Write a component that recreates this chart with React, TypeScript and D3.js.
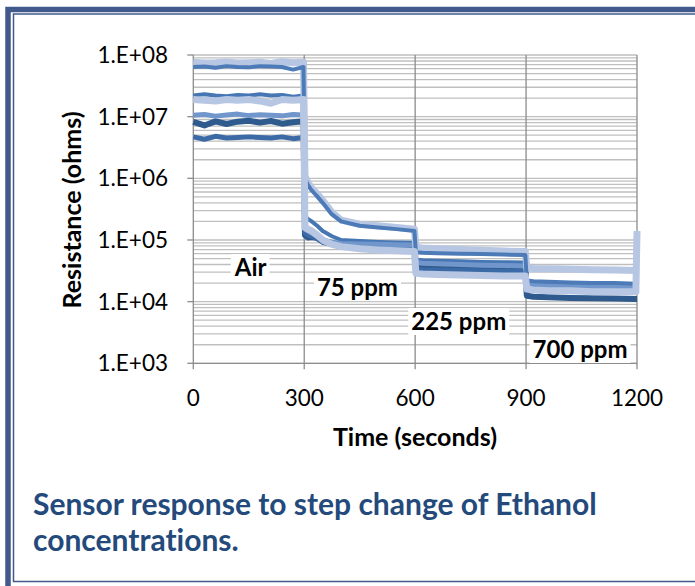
import { useEffect, useRef } from 'react';
import * as d3 from 'd3';

// time stamps (s) shared by all sensor traces
const times = [
  0, 30, 60, 90, 120, 150, 180, 210, 240, 270, 298,
  302, 310, 320, 335, 350, 375, 400, 450, 500, 550, 598,
  602, 620, 660, 720, 780, 840, 898,
  902, 920, 960, 1020, 1080, 1140, 1197, 1200,
];

// resistance (ohms) per sensor
const s1 = [
  7.6e7, 7.4e7, 7.5e7, 7.7e7, 7.4e7, 7.5e7, 7.6e7, 7.3e7, 7.8e7, 7.5e7, 7.6e7,
  1.1e6, 8.5e5, 7.0e5, 5.6e5, 4.4e5, 2.8e5, 2.1e5, 1.8e5, 1.7e5, 1.6e5, 1.5e5,
  7.6e4, 7.4e4, 7.2e4, 7.0e4, 6.8e4, 6.6e4, 6.5e4,
  3.5e4, 3.45e4, 3.4e4, 3.35e4, 3.3e4, 3.25e4, 3.2e4, 3.2e4,
];
const s2 = [
  6.4e7, 6.5e7, 6.2e7, 6.6e7, 6.4e7, 6.3e7, 6.6e7, 6.5e7, 6.4e7, 5.8e7, 6.4e7,
  1.0e6, 7.8e5, 6.4e5, 5.1e5, 4.0e5, 2.6e5, 2.0e5, 1.7e5, 1.6e5, 1.5e5, 1.4e5,
  6.3e4, 6.2e4, 6.1e4, 6.0e4, 5.9e4, 5.8e4, 5.7e4,
  2.2e4, 2.15e4, 2.1e4, 2.05e4, 2.0e4, 2.0e4, 1.95e4, 1.95e4,
];
const s3 = [
  2.2e7, 2.3e7, 2.2e7, 2.15e7, 2.25e7, 2.2e7, 2.3e7, 2.2e7, 2.25e7, 2.1e7, 2.2e7,
  2.4e5, 2.2e5, 2.0e5, 1.7e5, 1.4e5, 1.15e5, 1.0e5, 9.6e4, 9.3e4, 9.1e4, 9.0e4,
  4.8e4, 4.7e4, 4.6e4, 4.5e4, 4.4e4, 4.35e4, 4.3e4,
  2.1e4, 2.05e4, 2.0e4, 1.95e4, 1.9e4, 1.9e4, 1.85e4, 1.85e4,
];
const s4 = [
  1.9e7, 1.85e7, 1.8e7, 1.9e7, 1.85e7, 1.9e7, 1.8e7, 1.65e7, 1.9e7, 1.85e7, 1.9e7,
  1.6e5, 1.5e5, 1.4e5, 1.2e5, 1.0e5, 8.5e4, 7.8e4, 7.2e4, 6.9e4, 6.7e4, 6.5e4,
  2.9e4, 2.8e4, 2.75e4, 2.7e4, 2.65e4, 2.6e4, 2.6e4,
  1.6e4, 1.55e4, 1.5e4, 1.5e4, 1.45e4, 1.45e4, 1.45e4, 1.4e5,
];
const s5 = [
  1.05e7, 1.08e7, 1.02e7, 1.06e7, 1.1e7, 1.04e7, 1.07e7, 1.05e7, 1.03e7, 1.08e7, 1.06e7,
  1.5e5, 1.4e5, 1.3e5, 1.15e5, 1.0e5, 9.2e4, 8.8e4, 8.6e4, 8.5e4, 8.4e4, 8.3e4,
  4.3e4, 4.2e4, 4.1e4, 4.0e4, 3.9e4, 3.85e4, 3.8e4,
  1.9e4, 1.85e4, 1.8e4, 1.75e4, 1.75e4, 1.7e4, 1.7e4, 1.7e4,
];
const s6 = [
  8.2e6, 7.2e6, 8.4e6, 7.6e6, 8.3e6, 8.6e6, 8.0e6, 8.5e6, 7.7e6, 8.1e6, 8.4e6,
  1.2e5, 1.1e5, 1.12e5, 1.08e5, 9.5e4, 8.8e4, 8.5e4, 8.3e4, 8.2e4, 8.1e4, 8.0e4,
  3.8e4, 3.7e4, 3.6e4, 3.5e4, 3.45e4, 3.4e4, 3.4e4,
  1.25e4, 1.2e4, 1.18e4, 1.15e4, 1.13e4, 1.12e4, 1.1e4, 1.1e4,
];
const s7 = [
  4.7e6, 4.3e6, 4.8e6, 4.5e6, 4.6e6, 4.7e6, 4.6e6, 4.5e6, 4.7e6, 4.4e6, 4.6e6,
  1.3e5, 1.2e5, 1.15e5, 1.05e5, 9.2e4, 8.4e4, 8.0e4, 7.8e4, 7.7e4, 7.6e4, 7.6e4,
  3.4e4, 3.3e4, 3.25e4, 3.2e4, 3.15e4, 3.1e4, 3.1e4,
  1.75e4, 1.7e4, 1.65e4, 1.62e4, 1.6e4, 1.6e4, 1.58e4, 1.58e4,
];

const xTicks = [0, 300, 600, 900, 1200];
const yTicks = [1e3, 1e4, 1e5, 1e6, 1e7, 1e8];
const yTickLabels = ['1.E+03', '1.E+04', '1.E+05', '1.E+06', '1.E+07', '1.E+08'];

const phaseLabels = [
  { text: 'Air', t: 155, v: 2.6e4 },
  { text: '75 ppm', t: 444, v: 1.23e4 },
  { text: '225 ppm', t: 718, v: 3.47e3 },
  { text: '700 ppm', t: 1046, v: 1.22e3 },
];

// drawing order: dark first, light on top
const series = [
  { values: s6, color: '#2F5A8D', width: 6 },
  { values: s7, color: '#3C6AA6', width: 5 },
  { values: s3, color: '#4676B3', width: 4 },
  { values: s5, color: '#7196CC', width: 5 },
  { values: s1, color: '#B7C7E3', width: 7 },
  { values: s2, color: '#4C7BB8', width: 4 },
  { values: s4, color: '#B7C7E3', width: 7 },
];

const W = 695;
const H = 586;
const font = 'Lato, "Open Sans", sans-serif';

const App = () => {
  const svgRef = useRef(null);

  useEffect(() => {
    const svg = d3.select(svgRef.current);
    svg.selectAll('*').remove();

    const x = d3.scaleLinear().domain([0, 1200]).range([193.3, 637]);
    const y = d3.scaleLog().domain([1e3, 1e8]).range([363.3, 55]);

    // frame
    svg.append('rect').attr('x', 8).attr('y', 9.5).attr('width', W + 20).attr('height', H + 20)
      .attr('fill', 'none').attr('stroke', '#41598B').attr('stroke-width', 5.5);
    svg.append('rect').attr('x', 13.5).attr('y', 14).attr('width', W + 20).attr('height', 567.5)
      .attr('fill', 'none').attr('stroke', '#41598B').attr('stroke-width', 1.5);

    const g = svg.append('g');

    // minor + major horizontal grid
    const gridVals = [];
    for (let e = 3; e < 8; e++) {
      for (let k = 1; k < 10; k++) gridVals.push(k * Math.pow(10, e));
    }
    gridVals.push(1e8);
    g.selectAll('.hgrid').data(gridVals).enter().append('line')
      .attr('x1', x(0)).attr('x2', x(1200))
      .attr('y1', d => y(d)).attr('y2', d => y(d))
      .attr('stroke', '#BFBFBF').attr('stroke-width', 1.3);

    // vertical grid and axes
    g.selectAll('.vgrid').data(xTicks).enter().append('line')
      .attr('x1', d => x(d)).attr('x2', d => x(d))
      .attr('y1', y(1e8)).attr('y2', y(1e3) + 6)
      .attr('stroke', '#8C8C8C').attr('stroke-width', 1.3);
    g.append('line').attr('x1', x(0)).attr('x2', x(1200)).attr('y1', y(1e3)).attr('y2', y(1e3))
      .attr('stroke', '#8C8C8C').attr('stroke-width', 1.3);
    g.selectAll('.ytick').data(yTicks).enter().append('line')
      .attr('x1', x(0) - 6).attr('x2', x(0))
      .attr('y1', d => y(d)).attr('y2', d => y(d))
      .attr('stroke', '#8C8C8C').attr('stroke-width', 1.3);

    // traces
    const line = d3.line()
      .x((d, i) => x(times[i]))
      .y(d => y(d));
    g.selectAll('.trace').data(series).enter().append('path')
      .attr('d', d => line(d.values))
      .attr('fill', 'none')
      .attr('stroke', d => d.color)
      .attr('stroke-width', d => d.width)
      .attr('stroke-linejoin', 'round');

    // phase labels with white boxes
    phaseLabels.forEach(p => {
      const t = g.append('text')
        .attr('x', x(p.t)).attr('y', y(p.v))
        .attr('text-anchor', 'middle')
        .attr('font-family', font).attr('font-weight', 'bold').attr('font-size', 24)
        .attr('fill', '#000')
        .text(p.text);
      const bb = t.node().getBBox();
      g.insert('rect', () => t.node())
        .attr('x', bb.x - 3).attr('y', bb.y + 2).attr('width', bb.width + 6).attr('height', bb.height - 2)
        .attr('fill', '#fff');
    });

    // tick labels
    svg.selectAll('.ylab').data(yTicks).enter().append('text')
      .attr('x', 168).attr('y', d => y(d)).attr('dy', '0.36em')
      .attr('text-anchor', 'end')
      .attr('font-family', font).attr('font-size', 22.5).attr('fill', '#000')
      .text((d, i) => yTickLabels[i]);
    svg.selectAll('.xlab').data(xTicks).enter().append('text')
      .attr('x', d => x(d)).attr('y', 406)
      .attr('text-anchor', 'middle')
      .attr('font-family', font).attr('font-size', 22.5).attr('fill', '#000')
      .text(d => d);

    // axis titles
    svg.append('text').attr('x', 415).attr('y', 446)
      .attr('text-anchor', 'middle')
      .attr('font-family', font).attr('font-weight', 'bold').attr('font-size', 25)
      .text('Time (seconds)');
    svg.append('text')
      .attr('transform', 'translate(81,210) rotate(-90)')
      .attr('text-anchor', 'middle')
      .attr('font-family', font).attr('font-weight', 'bold').attr('font-size', 25)
      .text('Resistance (ohms)');

    // caption
    const cap = svg.append('text')
      .attr('font-family', font).attr('font-weight', 'bold').attr('font-size', 30)
      .attr('fill', '#244A7C')
      .style('font-variant-ligatures', 'none');
    cap.append('tspan').attr('x', 33).attr('y', 515).text('Sensor response to step change of Ethanol');
    cap.append('tspan').attr('x', 33).attr('y', 551).text('concentrations.');
  }, []);

  return (
    <svg ref={svgRef} width={W} height={H}
      style={{ position: 'absolute', left: 0, top: 0, background: '#fff' }} />
  );
};

export default App;
